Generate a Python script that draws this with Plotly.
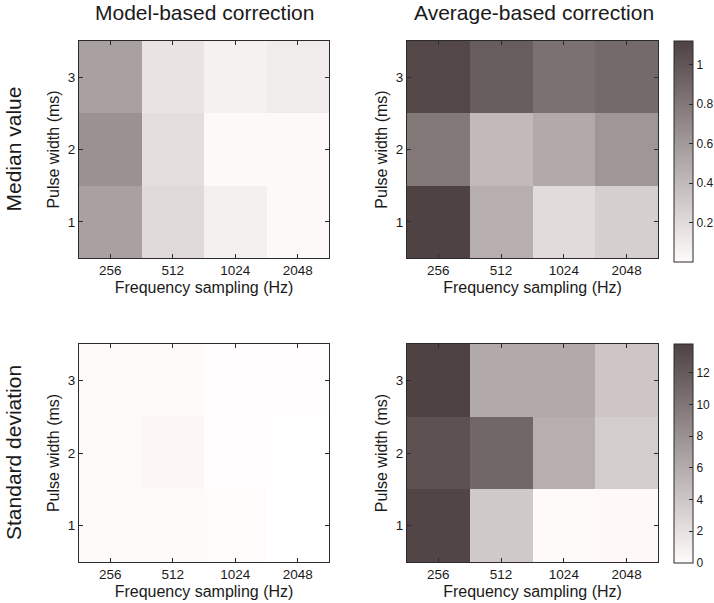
import plotly.graph_objects as go

freq_labels = ["256", "512", "1024", "2048"]
pulse_widths = [1, 2, 3]

# rows: pulse width 1, 2, 3 ; columns: 256, 512, 1024, 2048 Hz
model_median = [
    [0.56, 0.21, 0.07, 0.015],
    [0.65, 0.18, 0.01, 0.01],
    [0.56, 0.15, 0.065, 0.095],
]
average_median = [
    [1.12, 0.47, 0.20, 0.27],
    [0.80, 0.40, 0.50, 0.62],
    [1.09, 0.96, 0.84, 0.88],
]
model_std = [
    [0.08, 0.08, 0.06, 0.0],
    [0.08, 0.35, 0.04, 0.0],
    [0.08, 0.08, 0.04, 0.04],
]
average_std = [
    [13.6, 3.8, 0.1, 0.2],
    [12.7, 11.1, 5.8, 3.5],
    [13.8, 6.2, 6.2, 4.0],
]

col_titles = ["Model-based correction", "Average-based correction"]
row_titles = ["Median value", "Standard deviation"]
median_ticks = [0.2, 0.4, 0.6, 0.8, 1]
median_ticktext = ["0.2", "0.4", "0.6", "0.8", "1"]
std_ticks = [0, 2, 4, 6, 8, 10, 12]

W, H = 714, 603
FONT = "Arial, Liberation Sans, sans-serif"
LINE = "#2b2b2b"
TXT = "#1a1a1a"

colorscale = [
    [0.0, "rgb(255,255,255)"],
    [0.006, "rgb(255,250,250)"],
    [0.5, "rgb(169,160,160)"],
    [1.0, "rgb(78,66,66)"],
]

def px_x(p):
    return p / W

def px_y(p):
    return 1 - p / H

fig = go.Figure()

panels = [
    (model_median, "x", "y", "coloraxis"),
    (average_median, "x2", "y2", "coloraxis"),
    (model_std, "x3", "y3", "coloraxis2"),
    (average_std, "x4", "y4", "coloraxis2"),
]
for z, xa, ya, ca in panels:
    fig.add_trace(go.Heatmap(z=z, x=freq_labels, y=pulse_widths, xaxis=xa, yaxis=ya,
                             coloraxis=ca, hoverinfo="x+y+z"))

xdom = [(79, 329), (407, 658)]
ydom = [(41, 258), (344, 562)]

axis_common = dict(
    showline=True, linecolor=LINE, linewidth=1, mirror="ticks",
    ticks="inside", ticklen=4, tickcolor=LINE, tickwidth=1,
    showgrid=False, zeroline=False, automargin=False,
    tickfont=dict(family=FONT, size=13.5, color=TXT),
)

layout = {}
k = 0
for r in range(2):
    for c in range(2):
        k += 1
        sx = "" if k == 1 else str(k)
        layout["xaxis" + sx] = dict(
            axis_common, domain=[px_x(xdom[c][0]), px_x(xdom[c][1])],
            anchor="y" + sx, type="category",
            title=dict(text="Frequency sampling (Hz)", standoff=4,
                       font=dict(family=FONT, size=16, color=TXT)),
        )
        layout["yaxis" + sx] = dict(
            axis_common, domain=[px_y(ydom[r][1]), px_y(ydom[r][0])],
            anchor="x" + sx, range=[0.5, 3.5], tickvals=[1, 2, 3],
            title=dict(text="Pulse width (ms)", standoff=4,
                       font=dict(family=FONT, size=16, color=TXT)),
        )

cb_common = dict(
    thickness=19, thicknessmode="pixels", lenmode="pixels",
    x=px_x(674), xanchor="left", xpad=0, ypad=0, yanchor="top",
    outlinecolor=LINE, outlinewidth=1,
    ticks="inside", ticklen=4, tickcolor=LINE,
    tickfont=dict(family=FONT, size=12, color=TXT),
)

fig.update_layout(
    width=W, height=H,
    margin=dict(l=0, r=0, t=0, b=0, autoexpand=False),
    paper_bgcolor="white", plot_bgcolor="white",
    font=dict(family=FONT, color=TXT),
    coloraxis=dict(colorscale=colorscale, cmin=0, cmax=1.12,
                   colorbar=dict(cb_common, y=px_y(41), len=221,
                                 tickvals=median_ticks, ticktext=median_ticktext)),
    coloraxis2=dict(colorscale=colorscale, cmin=0, cmax=13.8,
                    colorbar=dict(cb_common, y=px_y(344), len=219,
                                  tickvals=std_ticks)),
    **layout,
)

annotations = []
for c, t in enumerate(col_titles):
    annotations.append(dict(text=t, x=px_x((xdom[c][0] + xdom[c][1]) / 2 + 1), y=px_y(12),
                            xref="paper", yref="paper", showarrow=False,
                            xanchor="center", yanchor="middle",
                            font=dict(family=FONT, size=21, color=TXT)))
for r, t in enumerate(row_titles):
    annotations.append(dict(text=t, x=px_x(13), y=px_y((ydom[r][0] + ydom[r][1]) / 2),
                            xref="paper", yref="paper", showarrow=False, textangle=-90,
                            xanchor="center", yanchor="middle",
                            font=dict(family=FONT, size=21, color=TXT)))
fig.update_layout(annotations=annotations)

fig.write_html(
    "out.html",
    config={"displayModeBar": False},
    post_script="document.body.style.margin='0';document.body.style.overflow='hidden';",
)
